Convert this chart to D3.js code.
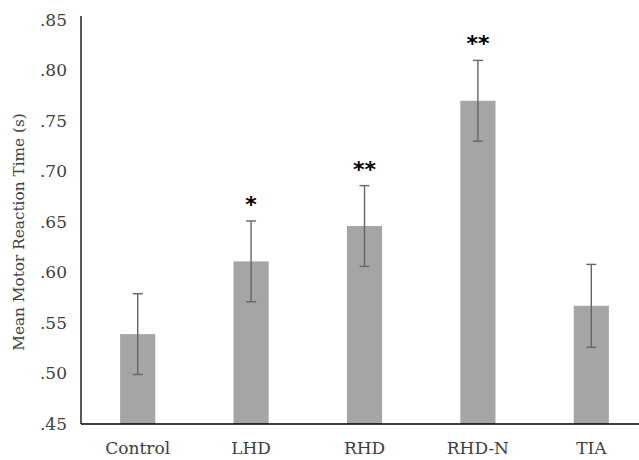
<!DOCTYPE html>
<html lang="en">
<head>
<meta charset="UTF-8"/>
<title>Mean Motor Reaction Time</title>
<script src="https://d3js.org/d3.v7.min.js"></script>
<style>
  body { margin: 0; background: #fff; }
  text { font-family: "DejaVu Serif", serif; fill: #404040; }
</style>
</head>
<body>
<script>
    // Chart data
    var groups = ["Control", "LHD", "RHD", "RHD-N", "TIA"];
    var means = [0.539, 0.611, 0.646, 0.770, 0.567];
    var errors = [0.040, 0.040, 0.040, 0.040, 0.041];
    var stars = ["", "*", "**", "**", ""];
    var yTicks = [0.45, 0.50, 0.55, 0.60, 0.65, 0.70, 0.75, 0.80, 0.85];

    var w = 639;
    var h = 460;
    var padLeft = 81, padTop = 20, padBottom = 424, padRight = 648;

    var svg = d3.select("body")
                .append("svg")
                .attr("width", w)
                .attr("height", h);

    var xScale = d3.scaleBand()
                   .domain(groups)
                   .range([padLeft, padRight])
                   .paddingInner(0.69)
                   .paddingOuter(0.345);

    var yScale = d3.scaleLinear()
                   .domain([0.45, 0.85])
                   .range([padBottom, padTop]);

    // bars
    svg.selectAll("rect.bar")
       .data(means)
       .enter()
       .append("rect")
       .attr("class", "bar")
       .attr("x", function(d, i) { return xScale(groups[i]); })
       .attr("y", function(d) { return yScale(d); })
       .attr("width", xScale.bandwidth())
       .attr("height", function(d) { return yScale(0.45) - yScale(d); })
       .attr("fill", "#a5a5a5");

    // error bars
    var eb = svg.selectAll("g.err")
                .data(means)
                .enter()
                .append("g")
                .attr("class", "err")
                .attr("stroke", "#666")
                .attr("stroke-width", 1.4);

    function cx(i) { return xScale(groups[i]) + xScale.bandwidth() / 2; }

    eb.append("line")
      .attr("x1", function(d, i) { return cx(i); })
      .attr("x2", function(d, i) { return cx(i); })
      .attr("y1", function(d, i) { return yScale(d + errors[i]); })
      .attr("y2", function(d, i) { return yScale(d - errors[i]); });
    eb.append("line")
      .attr("x1", function(d, i) { return cx(i) - 5; })
      .attr("x2", function(d, i) { return cx(i) + 5; })
      .attr("y1", function(d, i) { return yScale(d + errors[i]); })
      .attr("y2", function(d, i) { return yScale(d + errors[i]); });
    eb.append("line")
      .attr("x1", function(d, i) { return cx(i) - 5; })
      .attr("x2", function(d, i) { return cx(i) + 5; })
      .attr("y1", function(d, i) { return yScale(d - errors[i]); })
      .attr("y2", function(d, i) { return yScale(d - errors[i]); });

    // significance stars
    svg.selectAll("text.star")
       .data(stars)
       .enter()
       .append("text")
       .attr("class", "star")
       .attr("x", function(d, i) { return cx(i); })
       .attr("y", function(d, i) { return yScale(means[i] + errors[i]) - 9; })
       .attr("text-anchor", "middle")
       .style("font-family", "'DejaVu Sans', sans-serif")
       .style("font-size", "22px")
       .style("font-weight", "bold")
       .style("fill", "#000")
       .text(function(d) { return d; });

    // y axis
    var yAxis = d3.axisLeft(yScale)
                  .tickValues(yTicks)
                  .tickSize(0)
                  .tickPadding(14)
                  .tickFormat(function(d) { return d3.format(".2f")(d).replace(/^0/, ""); });
    var gy = svg.append("g")
                .attr("transform", "translate(" + padLeft + ",0)")
                .call(yAxis);
    gy.select(".domain").attr("stroke", "#000").attr("stroke-width", 1.3)
      .attr("d", "M0," + (padTop - 4) + "V" + padBottom);
    gy.selectAll("text").style("font-family", "'DejaVu Serif', serif")
      .style("font-size", "17px").style("fill", "#404040");

    // x axis
    var xAxis = d3.axisBottom(xScale).tickSize(0).tickPadding(18);
    var gx = svg.append("g")
                .attr("transform", "translate(0," + padBottom + ")")
                .call(xAxis);
    gx.select(".domain").attr("stroke", "#000").attr("stroke-width", 1.3)
      .attr("d", "M" + padLeft + ",0H" + w);
    gx.selectAll("text").style("font-family", "'DejaVu Serif', serif")
      .style("font-size", "17px").style("fill", "#404040");

    // y axis label
    svg.append("text")
       .attr("transform", "rotate(-90)")
       .attr("x", -(padTop + padBottom) / 2 - 10)
       .attr("y", 24)
       .attr("text-anchor", "middle")
       .style("font-size", "15.3px")
       .text("Mean Motor Reaction Time (s)");
</script>
</body>
</html>
